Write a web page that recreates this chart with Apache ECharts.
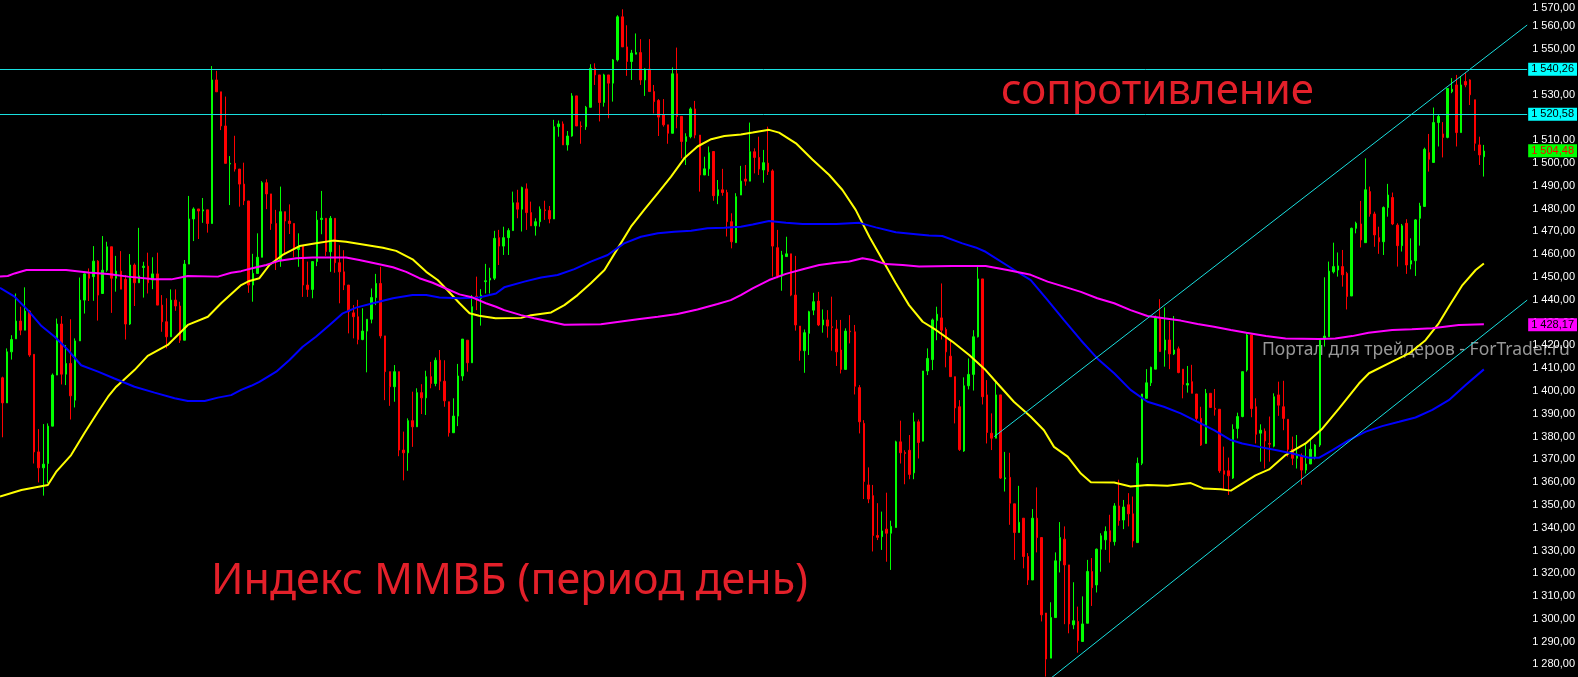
<!DOCTYPE html>
<html>
<head>
<meta charset="utf-8">
<script src="https://cdn.jsdelivr.net/npm/echarts@6/dist/echarts.min.js"></script>
<style>
  html, body { margin: 0; padding: 0; background: #000; }
  #chart { width: 1578px; height: 677px; }
</style>
</head>
<body>
<div id="chart"></div>
<script>
// дневные свечи индекса ММВБ: [open, close, low, high]
const ohlc = [
  [1404.9,1393.9,1378.8,1405.4],[1393.9,1416.3,1393.9,1417.8],[1416.3,1421.7,1412.9,1423.6],[1422.0,1429.8,1422.0,1441.9],
  [1429.8,1425.8,1423.6,1436.1],[1425.8,1434.2,1425.8,1444.6],[1434.2,1414.9,1414.1,1434.6],[1415.2,1372.4,1367.3,1415.2],
  [1372.4,1365.4,1359.0,1382.4],[1365.4,1367.0,1353.2,1384.6],[1367.3,1383.7,1358.7,1384.9],[1383.7,1406.1,1383.7,1406.8],
  [1406.1,1428.5,1406.1,1430.9],[1428.5,1406.5,1402.0,1432.0],[1406.5,1411.2,1401.7,1419.3],[1411.2,1397.0,1386.6,1430.6],
  [1395.1,1421.1,1391.9,1422.2],[1421.1,1439.0,1421.1,1448.9],[1439.0,1450.5,1433.1,1450.7],[1450.5,1448.6,1438.6,1452.9],
  [1449.3,1456.1,1438.7,1462.7],[1456.1,1441.2,1430.0,1456.5],[1441.9,1452.1,1441.9,1467.1],[1452.1,1462.4,1451.4,1464.6],
  [1462.4,1448.6,1433.4,1462.4],[1448.6,1451.7,1442.7,1458.4],[1451.7,1443.8,1443.8,1460.5],[1448.1,1428.5,1421.7,1450.0],
  [1428.5,1454.4,1428.1,1459.2],[1454.4,1446.6,1436.4,1455.1],[1446.6,1449.6,1446.6,1470.7],[1453.3,1453.9,1440.1,1455.8],
  [1453.9,1446.6,1441.9,1459.8],[1447.8,1450.5,1443.8,1457.8],[1450.5,1436.8,1436.8,1459.8],[1436.8,1429.5,1425.1,1441.2],
  [1429.5,1422.9,1417.8,1439.8],[1422.9,1439.0,1422.9,1443.7],[1439.0,1436.4,1434.3,1443.7],[1436.4,1421.4,1420.2,1438.3],
  [1421.4,1454.8,1421.4,1456.6],[1454.8,1474.6,1454.8,1484.7],[1474.6,1479.0,1464.9,1479.7],[1479.0,1478.1,1465.8,1479.0],
  [1478.1,1478.6,1472.9,1483.8],[1478.6,1472.6,1468.6,1478.6],[1472.6,1535.6,1472.6,1541.7],[1535.6,1530.4,1530.4,1539.6],
  [1530.4,1515.4,1513.6,1530.4],[1515.4,1499.0,1499.0,1528.3],[1498.7,1499.0,1480.7,1502.2],[1499.0,1496.5,1495.4,1511.1],
  [1496.5,1489.9,1480.0,1496.5],[1489.9,1482.6,1480.7,1499.3],[1482.5,1445.6,1442.2,1482.5],[1445.6,1450.7,1438.3,1459.3],
  [1450.7,1457.8,1450.7,1468.3],[1457.8,1490.5,1457.8,1491.2],[1490.5,1485.6,1478.9,1492.0],[1485.6,1472.6,1469.8,1485.6],
  [1472.6,1456.6,1452.2,1478.6],[1456.6,1477.8,1453.6,1488.8],[1477.8,1473.7,1459.6,1477.8],[1473.7,1472.6,1468.0,1481.0],
  [1472.6,1461.7,1457.8,1472.6],[1461.2,1462.4,1453.6,1468.3],[1462.7,1445.6,1440.4,1463.1],[1445.6,1443.7,1440.4,1455.9],
  [1443.7,1455.9,1439.8,1455.9],[1455.9,1474.1,1453.9,1478.1],[1474.4,1474.9,1467.9,1486.9],[1474.9,1460.3,1458.4,1474.9],
  [1460.2,1474.9,1451.4,1475.9],[1474.9,1455.4,1451.0,1474.9],[1455.4,1451.4,1437.6,1463.1],[1451.4,1445.6,1443.4,1460.9],
  [1445.6,1433.9,1424.4,1445.6],[1433.4,1431.7,1422.2,1436.8],[1431.7,1421.7,1419.6,1439.1],[1421.7,1425.4,1421.4,1435.4],
  [1425.4,1430.6,1407.3,1430.6],[1430.6,1440.1,1428.8,1444.1],[1440.1,1446.3,1436.8,1450.5],[1446.3,1423.3,1422.2,1453.6],
  [1423.3,1407.6,1395.1,1423.3],[1407.6,1401.0,1392.6,1407.6],[1401.0,1407.6,1394.4,1410.5],[1407.6,1373.2,1370.5,1407.6],
  [1373.2,1372.0,1359.9,1381.3],[1372.0,1386.1,1364.1,1387.1],[1386.1,1383.4,1374.6,1398.8],[1383.4,1398.4,1383.4,1400.3],
  [1398.4,1396.1,1389.0,1402.1],[1396.1,1405.4,1388.6,1408.0],[1405.4,1402.4,1400.3,1411.9],[1402.4,1412.6,1401.2,1413.8],
  [1412.6,1403.4,1399.5,1417.1],[1403.4,1394.8,1392.2,1412.6],[1394.4,1380.8,1379.1,1394.4],[1380.8,1388.1,1380.8,1395.9],
  [1388.1,1405.7,1383.7,1411.0],[1405.7,1421.9,1403.6,1421.9],[1421.4,1411.5,1407.6,1421.4],[1411.5,1436.1,1411.5,1441.2],
  [1440.7,1439.8,1434.6,1449.3],[1439.8,1441.2,1427.8,1443.8],[1447.1,1447.5,1441.9,1454.9],[1447.8,1448.6,1441.9,1453.2],
  [1448.6,1466.1,1447.8,1469.4],[1466.4,1462.7,1454.4,1469.8],[1462.7,1466.4,1458.8,1471.2],[1466.4,1469.5,1458.8,1470.5],
  [1469.5,1481.7,1469.5,1486.6],[1481.7,1478.9,1474.9,1487.4],[1478.9,1488.4,1469.1,1488.8],[1487.8,1477.4,1469.8,1490.2],
  [1477.4,1471.6,1471.6,1482.2],[1471.6,1473.4,1467.3,1474.9],[1473.4,1478.9,1471.2,1480.1],[1478.6,1478.3,1474.2,1482.6],
  [1478.3,1474.6,1472.7,1480.3],[1474.6,1515.1,1474.6,1518.1],[1515.1,1516.3,1510.7,1517.8],[1516.3,1507.1,1507.1,1517.4],
  [1507.1,1511.0,1504.6,1513.2],[1511.0,1528.6,1510.7,1529.8],[1528.6,1515.4,1515.4,1528.6],[1515.4,1515.1,1507.6,1517.4],
  [1515.1,1523.6,1513.7,1524.2],[1523.6,1540.7,1523.6,1542.5],[1540.7,1537.8,1533.4,1542.9],[1537.8,1525.7,1517.4,1537.8],
  [1525.7,1537.8,1523.9,1538.3],[1537.8,1534.2,1518.8,1537.8],[1534.2,1544.4,1526.1,1544.8],[1544.4,1563.3,1543.7,1564.0],
  [1563.3,1550.1,1550.1,1566.6],[1550.1,1543.7,1537.4,1559.6],[1543.7,1547.4,1535.6,1548.8],[1546.9,1547.6,1546.9,1556.0],
  [1547.6,1535.6,1533.4,1553.5],[1535.6,1540.4,1528.6,1540.7],[1540.4,1530.5,1530.5,1553.5],[1530.5,1526.1,1520.9,1533.4],
  [1526.6,1519.3,1511.0,1527.2],[1520.2,1515.9,1515.1,1527.2],[1515.9,1512.2,1507.6,1515.9],[1512.2,1538.3,1512.2,1541.1],
  [1538.3,1519.6,1514.4,1549.8],[1519.6,1508.6,1501.2,1519.6],[1508.6,1510.7,1498.3,1512.2],[1510.7,1522.9,1510.0,1523.6],
  [1522.9,1511.4,1510.0,1526.4],[1511.4,1493.9,1486.6,1511.4],[1493.9,1496.6,1493.9,1501.9],[1496.6,1503.7,1493.5,1506.4],
  [1504.2,1484.8,1482.6,1504.2],[1484.8,1487.4,1481.1,1491.7],[1487.4,1486.2,1484.8,1496.6],[1486.2,1473.4,1466.9,1487.4],
  [1473.4,1464.6,1461.7,1477.1],[1464.2,1484.4,1464.2,1485.9],[1485.1,1491.2,1485.1,1497.9],[1492.1,1491.2,1489.2,1498.3],
  [1491.2,1504.1,1491.2,1516.9],[1504.1,1501.6,1494.6,1505.6],[1501.6,1496.5,1493.9,1510.7],[1496.1,1499.3,1490.5,1504.9],
  [1499.1,1495.4,1493.9,1515.1],[1495.7,1462.7,1449.3,1496.4],[1462.0,1449.6,1448.6,1469.8],[1449.6,1458.8,1443.1,1460.6],
  [1458.1,1459.3,1458.1,1466.8],[1459.3,1441.2,1440.7,1459.3],[1441.2,1428.1,1425.6,1458.4],[1427.6,1416.8,1412.4,1427.6],
  [1416.8,1424.7,1407.1,1426.1],[1424.4,1433.9,1414.9,1434.3],[1434.6,1438.3,1432.4,1442.2],[1438.6,1428.1,1427.6,1442.6],
  [1428.1,1430.3,1424.7,1434.9],[1430.3,1427.6,1422.5,1434.6],[1427.3,1427.0,1416.8,1440.5],[1426.3,1416.3,1410.1,1430.3],
  [1417.1,1408.6,1406.8,1430.3],[1408.6,1425.4,1408.6,1426.6],[1425.4,1425.1,1420.0,1432.4],[1425.1,1401.2,1397.6,1428.1],
  [1400.6,1385.6,1380.5,1401.7],[1384.9,1359.4,1351.7,1386.3],[1357.9,1351.7,1349.9,1365.6],[1353.2,1335.7,1328.7,1357.9],
  [1335.7,1334.9,1333.7,1349.9],[1335.2,1337.7,1329.4,1346.2],[1338.5,1336.7,1324.2,1354.5],[1336.7,1339.7,1320.6,1342.2],
  [1339.2,1376.8,1339.2,1377.3],[1376.8,1372.0,1367.3,1386.1],[1372.1,1371.7,1358.2,1373.1],[1373.1,1362.5,1360.4,1379.8],
  [1363.2,1385.6,1360.4,1389.6],[1385.6,1376.5,1369.5,1386.6],[1377.1,1407.9,1377.1,1407.9],[1407.9,1413.4,1406.1,1417.8],
  [1412.9,1430.3,1408.3,1430.9],[1430.0,1432.8,1421.4,1436.1],[1431.2,1425.8,1421.7,1446.3],[1426.1,1416.3,1409.5,1427.0],
  [1414.4,1405.4,1405.4,1421.4],[1405.4,1391.7,1384.9,1405.4],[1392.2,1373.4,1372.8,1395.1],[1372.8,1401.4,1372.4,1405.1],
  [1401.4,1406.4,1399.8,1413.4],[1406.4,1422.9,1399.3,1425.8],[1422.9,1448.3,1422.6,1454.4],[1448.3,1396.6,1393.2,1448.3],
  [1397.4,1380.9,1376.1,1403.9],[1380.6,1378.4,1373.2,1389.3],[1378.4,1397.4,1378.4,1403.9],[1397.4,1360.9,1360.5,1397.4],
  [1360.6,1361.0,1355.0,1372.4],[1361.2,1349.9,1340.4,1372.0],[1349.6,1337.0,1325.0,1349.6],[1337.0,1341.5,1337.0,1357.5],
  [1343.3,1326.5,1321.3,1343.3],[1326.5,1316.2,1314.0,1328.0],[1316.2,1343.3,1316.2,1347.3],[1343.3,1334.8,1328.3,1356.8],
  [1334.8,1300.9,1298.0,1334.8],[1301.7,1281.5,1273.8,1301.7],[1281.9,1299.7,1281.9,1306.4],[1299.7,1324.6,1299.7,1328.3],
  [1324.6,1334.8,1319.5,1341.6],[1334.1,1322.8,1296.8,1339.7],[1322.8,1296.9,1292.8,1322.8],[1296.5,1298.3,1294.6,1315.2],
  [1298.0,1289.6,1284.3,1304.5],[1289.2,1296.9,1289.2,1309.0],[1297.2,1319.9,1297.2,1325.0],[1319.9,1312.8,1304.8,1325.8],
  [1314.0,1329.7,1310.7,1330.0],[1329.7,1335.6,1319.8,1336.7],[1333.8,1337.5,1329.4,1339.7],[1337.8,1333.0,1323.8,1344.8],
  [1333.0,1348.7,1331.3,1349.9],[1348.7,1342.3,1340.0,1360.2],[1342.5,1348.2,1338.5,1351.3],[1349.2,1345.2,1339.7,1354.3],
  [1345.2,1333.3,1330.5,1352.8],[1332.6,1367.4,1332.6,1369.9],[1367.4,1397.8,1366.6,1397.8],[1395.9,1402.7,1395.9,1408.7],
  [1402.7,1409.5,1401.3,1409.8],[1408.7,1431.1,1408.7,1432.2],[1431.0,1416.4,1416.4,1439.4],[1417.1,1421.5,1409.8,1435.8],
  [1421.5,1415.4,1408.7,1429.9],[1415.4,1417.1,1414.9,1432.0],[1417.6,1407.2,1406.9,1418.6],[1408.7,1402.0,1395.9,1408.7],
  [1401.7,1402.4,1398.4,1410.1],[1403.2,1398.1,1398.1,1410.6],[1397.8,1387.1,1385.6,1397.8],[1387.1,1375.4,1375.0,1392.2],
  [1376.1,1398.1,1376.1,1400.0],[1398.1,1391.9,1391.9,1398.1],[1391.5,1391.1,1388.3,1400.0],[1391.1,1364.1,1363.2,1391.1],
  [1364.1,1362.6,1355.7,1374.7],[1364.1,1361.9,1353.5,1369.9],[1360.9,1382.2,1360.5,1384.5],[1382.7,1387.9,1378.3,1389.6],
  [1387.9,1407.6,1387.6,1407.6],[1408.3,1423.7,1407.6,1424.4],[1423.7,1391.4,1387.6,1423.7],[1392.2,1380.1,1376.1,1395.9],
  [1380.6,1381.9,1368.1,1384.5],[1381.5,1377.2,1365.1,1382.7],[1376.1,1375.8,1368.1,1387.9],[1374.9,1396.6,1374.4,1398.1],
  [1397.4,1392.9,1388.2,1403.2],[1392.2,1387.1,1381.9,1403.6],[1386.7,1373.5,1370.3,1386.7],[1373.5,1369.6,1366.6,1379.1],
  [1369.6,1371.4,1365.1,1379.8],[1370.8,1364.4,1358.0,1371.7],[1364.4,1367.1,1362.9,1376.1],[1367.1,1373.5,1367.1,1377.6],
  [1370.3,1375.4,1369.1,1375.8],[1375.4,1421.4,1374.6,1422.2],[1422.2,1423.2,1418.6,1449.0],[1422.9,1451.7,1422.9,1455.9],
  [1451.4,1453.7,1450.7,1464.2],[1452.2,1454.0,1449.3,1459.9],[1453.7,1450.1,1444.9,1461.0],[1450.7,1440.6,1434.9,1451.4],
  [1440.8,1470.5,1440.8,1470.8],[1470.5,1472.7,1468.3,1473.4],[1472.4,1465.4,1462.1,1482.5],[1464.2,1487.4,1464.2,1501.2],
  [1486.6,1476.8,1475.6,1488.8],[1476.8,1467.6,1462.4,1477.8],[1466.4,1464.6,1459.3,1471.2],[1464.6,1479.6,1458.8,1480.1],
  [1479.6,1485.1,1475.6,1490.0],[1484.0,1472.4,1471.9,1486.2],[1471.9,1462.9,1453.7,1472.7],[1462.9,1471.6,1460.3,1472.4],
  [1472.7,1454.4,1450.5,1474.5],[1454.8,1456.3,1452.5,1466.1],[1456.3,1474.2,1449.6,1474.5],[1474.9,1480.3,1462.9,1481.7],
  [1480.1,1505.2,1480.1,1505.9],[1503.7,1500.8,1495.4,1511.9],[1499.4,1516.9,1499.4,1523.5],[1516.9,1519.6,1506.4,1520.5],
  [1511.9,1510.4,1501.6,1517.1],[1510.4,1531.9,1510.0,1531.9],[1530.5,1531.5,1529.8,1536.4],[1533.4,1512.5,1506.4,1537.8],
  [1512.5,1533.4,1512.5,1537.1],[1534.9,1533.4,1532.4,1538.6],[1535.6,1529.1,1524.6,1535.9],[1526.9,1507.8,1504.5,1526.9],
  [1507.1,1502.7,1498.3,1510.7],[1501.9,1504.4,1493.2,1507.1]
]

// свободное место справа от последней свечи (сдвиг графика)
const totalSlots = 335
const categories = Array.from({ length: totalSlots }, (_, i) => String(i + 1))

// скользящие средние: [номер свечи, цена]
const maYellow = [
  [-0.5,1352.8],[4.2,1355.7],[10.0,1357.9],[11.8,1363.6],[15.1,1371.0],[18.0,1380.6],[21.0,1390.0],[23.2,1396.6],
  [25.0,1401.0],[29.0,1408.3],[31.9,1414.5],[36.3,1419.3],[40.7,1428.1],[45.1,1431.7],[48.0,1437.6],[52.4,1445.6],
  [54.2,1447.4],[56.4,1448.6],[58.6,1454.4],[61.5,1458.8],[65.2,1462.7],[68.8,1463.9],[72.5,1465.1],[75.4,1464.6],
  [79.8,1463.2],[83.5,1462.0],[86.4,1460.6],[90.0,1456.9],[93.0,1451.4],[95.5,1447.8],[97.3,1444.1],[100.3,1437.6],
  [102.5,1433.2],[104.6,1432.1],[108.2,1431.0],[113.8,1431.2],[116.0,1432.4],[120.4,1433.6],[123.3,1436.8],[126.2,1441.2],
  [129.1,1446.4],[132.1,1452.2],[135.0,1461.7],[137.9,1471.2],[140.8,1478.6],[143.8,1485.9],[146.7,1493.2],[149.6,1501.2],
  [152.5,1506.4],[155.5,1509.6],[158.4,1511.0],[162.0,1511.7],[164.6,1512.5],[168.2,1513.7],[170.4,1512.5],[174.1,1507.8],
  [177.7,1500.7],[181.4,1493.9],[184.3,1487.3],[187.2,1478.6],[190.2,1466.8],[193.1,1456.6],[196.0,1446.4],[198.9,1436.8],
  [201.9,1429.5],[204.8,1425.9],[208.4,1420.8],[212.1,1414.9],[215.7,1408.3],[218.3,1402.4],[221.9,1394.4],[225.6,1387.8],
  [228.5,1381.9],[230.7,1374.6],[233.7,1370.3],[236.6,1362.9],[238.8,1359.1],[243.9,1359.0],[247.5,1357.2],[251.2,1357.9],
  [255.6,1357.5],[260.7,1358.7],[263.6,1356.3],[267.3,1356.0],[269.5,1355.4],[274.9,1362.1],[277.9,1364.7],[281.5,1371.0],
  [285.9,1376.1],[289.6,1382.7],[293.2,1391.4],[297.6,1402.4],[299.8,1406.9],[304.9,1412.0],[308.6,1415.6],[312.2,1421.4],
  [315.1,1428.8],[317.3,1436.1],[320.3,1445.6],[323.2,1452.2],[325.0,1455.1]
]
const maBlue = [
  [-0.5,1444.4],[2.7,1440.5],[5.6,1434.6],[8.6,1427.6],[11.5,1422.9],[14.4,1417.1],[17.3,1410.4],[21.0,1407.6],
  [24.6,1404.6],[29.0,1401.0],[33.4,1398.4],[37.8,1395.9],[40.7,1394.7],[44.4,1394.7],[47.3,1396.2],[50.2,1397.3],
  [52.4,1399.6],[54.6,1401.4],[56.4,1403.1],[60.1,1407.6],[63.0,1412.7],[65.9,1418.5],[68.8,1422.9],[71.8,1428.1],
  [74.7,1433.2],[77.6,1435.7],[81.3,1437.6],[85.7,1439.8],[90.0,1441.2],[93.0,1441.2],[95.9,1440.1],[100.3,1439.8],
  [104.6,1440.1],[108.3,1441.9],[110.1,1444.6],[114.5,1447.1],[118.2,1448.9],[121.8,1450.0],[125.5,1452.6],[129.1,1455.9],
  [132.8,1458.8],[136.4,1463.9],[140.1,1466.8],[143.8,1468.3],[147.4,1469.0],[151.1,1469.4],[154.7,1470.5],[158.4,1470.7],
  [162.0,1471.2],[164.6,1472.2],[168.2,1473.7],[171.9,1472.9],[175.6,1472.4],[182.9,1472.4],[188.0,1472.9],[191.6,1470.9],
  [196.0,1468.8],[200.4,1467.9],[203.3,1467.3],[206.2,1467.1],[210.6,1463.9],[213.5,1462.1],[215.7,1460.2],[222.0,1452.2],
  [225.6,1447.8],[229.3,1439.0],[232.9,1430.2],[236.6,1421.4],[240.2,1413.4],[243.9,1406.9],[247.5,1399.6],[251.2,1394.4],
  [254.8,1392.2],[258.5,1389.3],[262.2,1385.6],[265.8,1381.9],[269.5,1377.6],[272.0,1376.1],[275.7,1374.6],[279.3,1373.2],
  [283.0,1371.7],[286.6,1369.8],[288.8,1369.8],[291.8,1373.2],[295.4,1377.6],[299.1,1381.3],[302.7,1383.7],[306.4,1385.6],
  [310.0,1387.5],[313.7,1390.8],[317.3,1395.1],[321.0,1401.7],[325.0,1408.6]
]
const maMagenta = [
  [-0.5,1449.3],[1.2,1449.6],[2.7,1450.7],[5.3,1452.2],[14.0,1452.2],[18.8,1451.1],[23.2,1450.5],[27.6,1449.3],
  [33.4,1448.1],[37.1,1448.1],[40.7,1449.6],[47.3,1449.3],[50.2,1451.0],[52.4,1451.7],[54.6,1452.9],[57.9,1454.4],
  [60.8,1456.3],[64.5,1457.4],[68.1,1457.7],[75.4,1457.7],[78.3,1456.6],[82.7,1454.7],[85.7,1453.4],[88.6,1451.4],
  [91.5,1448.6],[94.4,1446.6],[97.3,1444.1],[100.3,1441.5],[103.2,1440.1],[106.1,1437.6],[108.3,1436.1],[110.1,1434.6],
  [113.8,1432.4],[116.7,1431.0],[123.3,1428.2],[131.3,1428.4],[139.4,1430.6],[143.8,1431.7],[148.1,1432.9],[152.5,1434.9],
  [156.9,1437.3],[159.8,1439.0],[162.0,1441.2],[164.6,1444.1],[168.2,1447.8],[171.9,1450.5],[175.6,1452.5],[179.2,1454.4],
  [182.9,1455.4],[185.8,1455.9],[188.7,1457.4],[190.9,1456.6],[193.8,1454.8],[197.5,1454.4],[201.1,1453.7],[208.4,1454.0],
  [215.7,1454.0],[220.5,1452.2],[225.6,1450.1],[229.3,1447.1],[232.9,1444.9],[236.6,1442.6],[240.2,1439.8],[243.9,1437.6],
  [247.5,1434.6],[251.2,1432.0],[254.8,1431.0],[258.5,1430.0],[262.2,1428.5],[265.8,1427.3],[269.5,1425.9],[272.9,1424.7],
  [277.2,1423.2],[281.5,1422.2],[288.8,1421.9],[292.4,1422.2],[296.1,1423.2],[299.7,1424.7],[304.9,1425.9],[309.2,1426.2],
  [313.7,1426.6],[319.5,1428.1],[325.0,1428.4]
]

// трендовый канал
const upperTrend = [[217.6,1379.1],[334.5,1559.7]]
const lowerTrend = [[228.0,1269.9],[334.5,1439.0]]

// уровни сопротивления и метки шкалы
const resistance = [1540.26, 1520.58]
const lastPrice = 1504.48
const maLast = 1428.17
const tickValues = [1280,1290,1300,1310,1320,1330,1340,1350,1360,1370,1380,1390,1400,1410,1420,
  1430,1440,1450,1460,1470,1480,1490,1500,1510,1530,1550,1560,1570]

const upColor = '#00ff00'
const downColor = '#ff0000'
const lineCyan = '#19e0e0'
const labelFont = 'Liberation Sans'

// 1570 -> "1 570,00"
const fmtPrice = (v) => {
  const s = Number(v).toFixed(2).replace('.', ',')
  return s.length > 6 ? s.slice(0, s.length - 6) + ' ' + s.slice(-6) : s
}

const boxLabel = (bg, fg) => ({
  show: true,
  position: 'end',
  distance: 1,
  formatter: (p) => fmtPrice(p.value),
  backgroundColor: bg,
  color: fg,
  fontFamily: labelFont,
  fontSize: 11,
  lineHeight: 11,
  padding: [1, 3, 1, 3],
})

const chart = echarts.init(document.getElementById('chart'))

const option = {
  animation: false,
  backgroundColor: '#000',
  grid: { left: 0, right: 50, top: 0, bottom: 0 },
  xAxis: [
    {
      type: 'category',
      data: categories,
      boundaryGap: true,
      show: false,
    },
    {
      // та же шкала, но числовая — для линий
      type: 'value',
      min: -0.5,
      max: totalSlots - 0.5,
      show: false,
    },
  ],
  yAxis: {
    type: 'value',
    position: 'right',
    min: 1273.62,
    max: 1570.68,
    axisLine: { show: false },
    axisTick: { show: false },
    splitLine: { show: false },
    axisLabel: {
      customValues: tickValues,
      // верхняя метка прижата к краю, как в терминале
      formatter: (v) => (v >= 1570 ? '{top|' + fmtPrice(v) + '}' : fmtPrice(v)),
      rich: {
        top: { padding: [8, 0, 0, 0], color: '#ffffff', fontFamily: labelFont, fontSize: 11 },
      },
      color: '#ffffff',
      fontFamily: labelFont,
      fontSize: 11,
      padding: [4, 0, 0, 0],
      margin: 5,
    },
  },
  graphic: [
    {
      type: 'text',
      z: -1,
      x: 1262,
      y: 350,
      style: {
        text: 'Портал для трейдеров - ForTrader.ru',
        fill: '#979797',
        font: '17.5px "Noto Sans"',
        verticalAlign: 'middle',
      },
    },
    {
      type: 'text',
      x: 1001,
      y: 92,
      style: {
        text: 'сопротивление',
        fill: '#e3202a',
        font: '42px "Noto Sans"',
        verticalAlign: 'middle',
      },
    },
    {
      type: 'text',
      x: 211,
      y: 582,
      style: {
        text: 'Индекс ММВБ (период день)',
        fill: '#e3202a',
        font: '43px "Noto Sans"',
        verticalAlign: 'middle',
      },
    },
  ],
  series: [
    {
      name: 'ММВБ',
      type: 'candlestick',
      data: ohlc,
      barWidth: 2,
      itemStyle: {
        color: upColor,
        color0: downColor,
        borderColor: upColor,
        borderColor0: downColor,
        borderWidth: 1,
      },
      markLine: {
        silent: true,
        symbol: 'none',
        data: [
          { yAxis: resistance[0], lineStyle: { color: lineCyan, width: 1, type: 'solid' }, label: boxLabel('#00ffff', '#000') },
          { yAxis: resistance[1], lineStyle: { color: lineCyan, width: 1, type: 'solid' }, label: boxLabel('#00ffff', '#000') },
          { yAxis: lastPrice, lineStyle: { color: 'rgba(0,0,0,0)', width: 0 }, label: boxLabel('#00ff00', '#ff0000') },
          { yAxis: maLast, lineStyle: { color: 'rgba(0,0,0,0)', width: 0 }, label: boxLabel('#ff00ff', '#000') },
        ],
      },
    },
    {
      name: 'MA fast',
      type: 'line',
      xAxisIndex: 1,
      data: maYellow,
      showSymbol: false,
      lineStyle: { color: '#ffff00', width: 2 },
    },
    {
      name: 'MA mid',
      type: 'line',
      xAxisIndex: 1,
      data: maBlue,
      showSymbol: false,
      lineStyle: { color: '#0000ff', width: 2 },
    },
    {
      name: 'MA slow',
      type: 'line',
      xAxisIndex: 1,
      data: maMagenta,
      showSymbol: false,
      lineStyle: { color: '#ff00ff', width: 2 },
    },
    {
      name: 'канал верх',
      type: 'line',
      xAxisIndex: 1,
      data: upperTrend,
      showSymbol: false,
      lineStyle: { color: lineCyan, width: 1 },
    },
    {
      name: 'канал низ',
      type: 'line',
      xAxisIndex: 1,
      data: lowerTrend,
      showSymbol: false,
      lineStyle: { color: lineCyan, width: 1 },
    },
  ],
}

chart.setOption(option)
</script>
</body>
</html>
